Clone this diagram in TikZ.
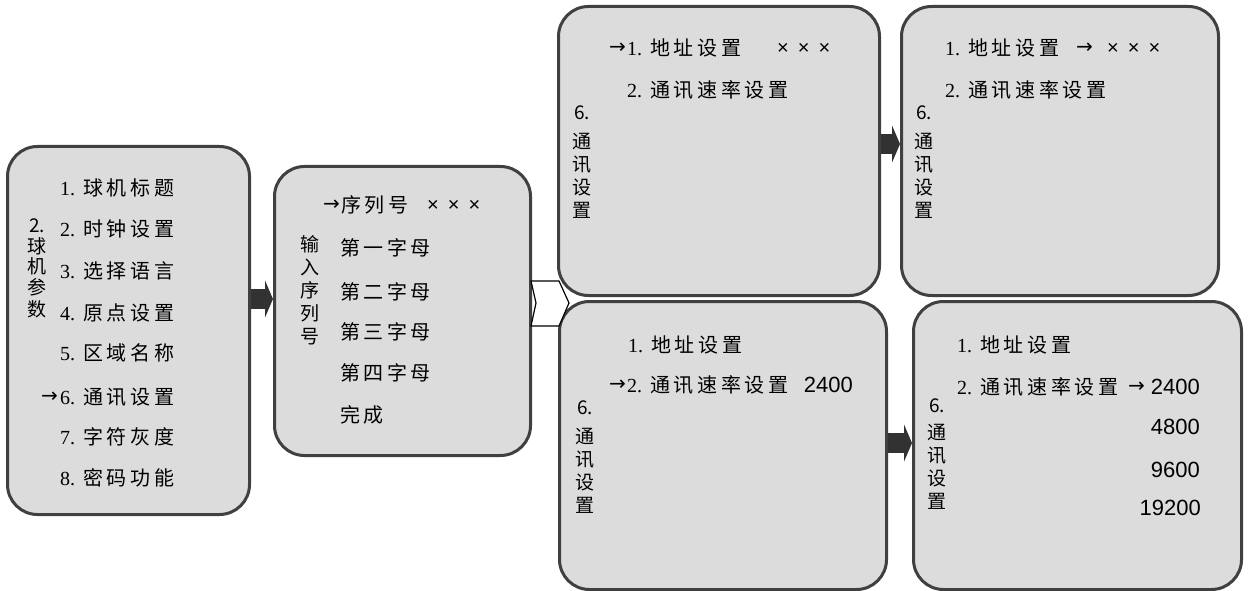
\documentclass[tikz,border=0pt]{standalone}
\usepackage{fontspec}
\setmainfont{Liberation Serif}
\newfontfamily\cjk[LetterSpace=18]{Noto Sans CJK SC}
\newfontfamily\cjkv{Noto Sans CJK SC}
\newfontfamily\sansL{Liberation Sans}
\newfontfamily\arrF{DejaVu Sans}
\usetikzlibrary{arrows.meta,calc}
\definecolor{boxfill}{RGB}{220,220,220}
\definecolor{boxline}{RGB}{64,64,64}
\definecolor{arrowc}{RGB}{50,50,50}
\newcommand\zhT[1]{{\cjk #1}}
\newcommand\numT[1]{{\sansL\fontsize{22}{22}\selectfont #1}}
\newcommand\xxxT{{\sansL\fontsize{20}{20}\selectfont ×\hspace{9pt}×\hspace{9pt}×}}
\newcommand\arrT{{\arrF\fontsize{20}{20}\selectfont →}}
\tikzset{
  box/.style={draw=boxline, fill=boxfill, line width=3pt, rounded corners=30pt, anchor=north west, inner sep=0pt},
  txt/.style={anchor=west, inner sep=0pt, font=\fontsize{20}{23}\selectfont},
  txte/.style={anchor=east, inner sep=0pt, font=\fontsize{20}{23}\selectfont},
  vtxt/.style={anchor=north, inner sep=0pt, align=center, font=\cjkv\fontsize{19}{23}\selectfont},
  bigarrow/.style={draw=arrowc, line width=20pt, -{Triangle[length=8pt,width=37pt]}},
  chev/.style={draw=black, fill=white, line width=1.2pt, line join=miter}
}
\begin{document}
\begin{tikzpicture}[x=1pt,y=-1pt]
\useasboundingbox (0,0) rectangle (1248,591);
\fill[white] (0,0) rectangle (1248,591);

% boxes
\node[box, minimum width=242pt, minimum height=368pt] (b1) at (6,145) {};
\node[box, minimum width=256pt, minimum height=289pt] (b2) at (273,165) {};
\node[box, minimum width=321pt, minimum height=289pt] (b3) at (557,5) {};
\node[box, minimum width=317pt, minimum height=289pt] (b4) at (900,5) {};
\node[box, minimum width=327pt, minimum height=288pt] (b5) at (558,300) {};
\node[box, minimum width=328pt, minimum height=288pt] (b6) at (912,300) {};

% arrows
\coordinate (r1) at (0,299);
\coordinate (r2) at (0,144);
\coordinate (r3) at (0,443);
\draw[bigarrow] (b1.east |- r1) -- (b2.west |- r1);
\draw[bigarrow] (b3.east |- r2) -- (b4.west |- r2);
\draw[bigarrow] (b5.east |- r3) -- (b6.west |- r3);

% chevron connector
\coordinate (c1) at (531,281);
\coordinate (c2) at (559,281);
\coordinate (c3) at (569,303);
\coordinate (c4) at (559,326);
\coordinate (c5) at (531,326);
\coordinate (c6) at (536,303);
\draw[chev] (c1) -- (c2) -- (c3) -- (c4) -- (c5) -- (c6) -- cycle;

% box 1
\node[vtxt] (v1) at (37,219) {2.\\[-2pt]球\\[-3pt]机\\[-2pt]参\\[-1pt]数};
\node[txt] (t11) at (60,188) {1.\hspace{8pt}\zhT{球机标题}};
\node[txt] (t12) at (60,229) {2.\hspace{8pt}\zhT{时钟设置}};
\node[txt] (t13) at (60,271) {3.\hspace{8pt}\zhT{选择语言}};
\node[txt] (t14) at (60,313) {4.\hspace{8pt}\zhT{原点设置}};
\node[txt] (t15) at (60,353) {5.\hspace{8pt}\zhT{区域名称}};
\node[txte] (a16) at (58,397) {\arrT};
\node[txt] (t16) at (60,397) {6.\hspace{8pt}\zhT{通讯设置}};
\node[txt] (t17) at (60,437) {7.\hspace{8pt}\zhT{字符灰度}};
\node[txt] (t18) at (60,478) {8.\hspace{8pt}\zhT{密码功能}};

% box 2
\node[vtxt] (v2) at (310,235) {输\\入\\序\\列\\号};
\node[txte] (a21) at (340,205) {\arrT};
\node[txt] (t21) at (341,205) {\zhT{序列号}};
\node[txt] (x21) at (427,206) {\xxxT};
\node[txt] (t22) at (340,248) {\zhT{第一字母}};
\node[txt] (t23) at (340,292) {\zhT{第二字母}};
\node[txt] (t24) at (340,332) {\zhT{第三字母}};
\node[txt] (t25) at (340,373) {\zhT{第四字母}};
\node[txt] (t26) at (340,415) {\zhT{完成}};

% box 3
\node[vtxt] (v3) at (582,106) {6.\\[6pt]通\\讯\\设\\置};
\node[txte] (a31) at (626,48) {\arrT};
\node[txt] (t31) at (627,48) {1.\hspace{8pt}\zhT{地址设置}};
\node[txt] (x31) at (777,49) {\xxxT};
\node[txt] (t32) at (627,90) {2.\hspace{8pt}\zhT{通讯速率设置}};

% box 4
\node[vtxt] (v4) at (924,106) {6.\\[6pt]通\\讯\\设\\置};
\node[txt] (t41) at (945,48) {1.\hspace{8pt}\zhT{地址设置}};
\node[txt] (a41) at (1076,48) {\arrT};
\node[txt] (x41) at (1107,49) {\xxxT};
\node[txt] (t42) at (945,90) {2.\hspace{8pt}\zhT{通讯速率设置}};

% box 5
\node[vtxt] (v5) at (585,401) {6.\\[6pt]通\\讯\\设\\置};
\node[txt] (t51) at (628,345) {1.\hspace{8pt}\zhT{地址设置}};
\node[txte] (a52) at (626,385) {\arrT};
\node[txt] (t52) at (627,385) {2.\hspace{8pt}\zhT{通讯速率设置}};
\node[txte] (n52) at (853,385) {\numT{2400}};

% box 6
\node[vtxt] (v6) at (937,399) {6.\\[4pt]通\\讯\\设\\置};
\node[txt] (t61) at (957,345) {1.\hspace{8pt}\zhT{地址设置}};
\node[txt] (t62) at (957,387) {2.\hspace{8pt}\zhT{通讯速率设置}};
\node[txte] (a62) at (1145,387) {\arrT};
\node[txte] (n62) at (1200,387) {\numT{2400}};
\node[txte] (n63) at (1200,427) {\numT{4800}};
\node[txte] (n64) at (1200,470) {\numT{9600}};
\node[txte] (n65) at (1201,508) {\numT{19200}};
\end{tikzpicture}
\end{document}
